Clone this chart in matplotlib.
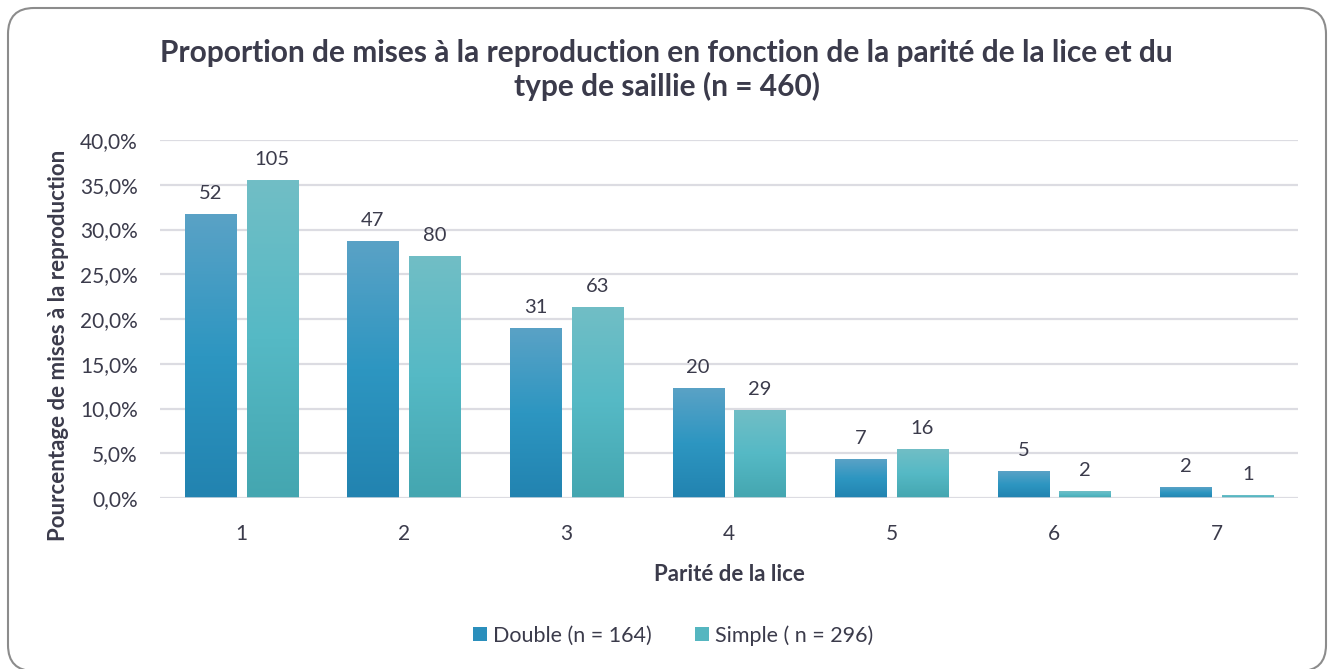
import numpy as np
import matplotlib
matplotlib.use("Agg")
import matplotlib.pyplot as plt
from matplotlib.colors import LinearSegmentedColormap
from matplotlib.patches import FancyBboxPatch, Patch
from matplotlib.transforms import IdentityTransform

# Données
parites = ["1", "2", "3", "4", "5", "6", "7"]
double_pct = [31.7, 28.7, 18.9, 12.2, 4.3, 3.0, 1.2]
simple_pct = [35.5, 27.0, 21.3, 9.8, 5.4, 0.7, 0.3]
double_n = [52, 47, 31, 20, 7, 5, 2]
simple_n = [105, 80, 63, 29, 16, 2, 1]
legend_labels = ["Double (n = 164)", "Simple ( n = 296)"]
yticks = [0, 5, 10, 15, 20, 25, 30, 35, 40]

plt.rcParams['font.family'] = ['Lato', 'DejaVu Sans']
txt = '#3b3b4b'

fig = plt.figure(figsize=(13.33, 6.69), dpi=100)
ax = fig.add_axes([0.120, 0.2556, 0.8538, 0.5351])

cmap_d = LinearSegmentedColormap.from_list('d', ['#2283b0', '#2d96c1', '#5aa2c6'])
cmap_s = LinearSegmentedColormap.from_list('s', ['#44a6b0', '#55b9c5', '#71bec6'])
grad = np.linspace(0, 1, 256).reshape(-1, 1)

x = np.arange(1, len(parites) + 1)
w = 0.315
off = 0.19
for xi, dv, sv, dn, sn in zip(x, double_pct, simple_pct, double_n, simple_n):
    for val, n, dx, cm in [(dv, dn, -off, cmap_d), (sv, sn, off, cmap_s)]:
        ax.imshow(grad, cmap=cm, origin='lower', aspect='auto',
                  extent=[xi + dx - w / 2, xi + dx + w / 2, 0, val], zorder=3)
        ax.text(xi + dx, val + 1.4, str(n), ha='center', va='bottom',
                fontsize=14.5, color=txt)

ax.set_xlim(0.5, len(parites) + 0.5)
ax.set_ylim(0, 40)
ax.set_xticks(x)
ax.set_xticklabels(parites)
ax.set_yticks(yticks)
ax.set_yticklabels([f"{v:.1f}%".replace('.', ',') for v in yticks])
ax.tick_params(length=0, labelsize=15, colors=txt)
ax.tick_params(axis='x', pad=19)
ax.tick_params(axis='y', pad=16)
ax.grid(axis='y', color='#dcdce2', linewidth=1.6, zorder=0)
for s in ax.spines.values():
    s.set_visible(False)
ax.axhline(0, color='#dcdce2', linewidth=1.8, zorder=4)

ax.set_xlabel("Parité de la lice", fontsize=16, fontweight='bold', color=txt, labelpad=14)
ax.set_ylabel("Pourcentage de mises à la reproduction", fontsize=16, fontweight='bold',
              color=txt)
ax.yaxis.set_label_coords(-0.080, 0.425)

fig.text(0.5, 0.895, "Proportion de mises à la reproduction en fonction de la parité de la lice et du\ntype de saillie (n = 460)",
         ha='center', va='center', fontsize=21.5, fontweight='bold', color=txt, linespacing=1.2)

handles = [Patch(facecolor='#2b8fbc'), Patch(facecolor='#55b6c0')]
fig.legend(handles, legend_labels, loc='center', bbox_to_anchor=(0.505, 0.05), ncol=2,
           frameon=False, fontsize=15.5, labelcolor=txt, handlelength=0.65, handleheight=0.65,
           handletextpad=0.3, columnspacing=2.0)

fig.patches.append(FancyBboxPatch((8, -2), 1318, 663,
                                  boxstyle="round,pad=0,rounding_size=26",
                                  transform=IdentityTransform(), facecolor='none',
                                  edgecolor='#8c8c8c', linewidth=1.5, figure=fig))

fig.savefig("out.png", dpi=100)
